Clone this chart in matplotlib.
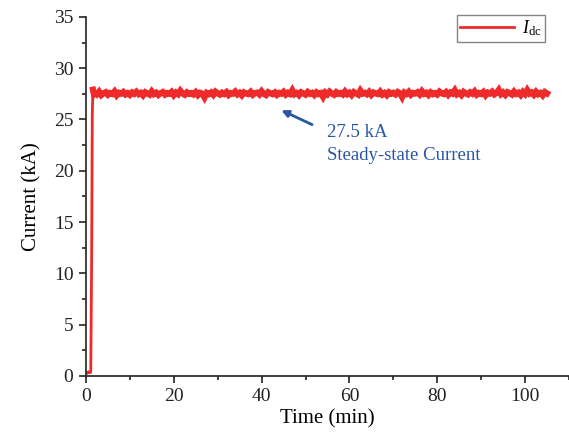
import numpy as np
import matplotlib.pyplot as plt
from matplotlib.ticker import MultipleLocator

plt.rcParams['font.family'] = ['Liberation Serif', 'DejaVu Serif']
plt.rcParams['mathtext.fontset'] = 'custom'
plt.rcParams['mathtext.it'] = 'Liberation Serif:italic'
plt.rcParams['mathtext.rm'] = 'Liberation Serif'

# start-up part (min, kA)
t_start = [0.0, 0.3, 0.6, 0.9, 1.1, 1.3, 1.45, 1.6, 1.8]
i_start = [0.35, 0.25, 0.4, 0.3, 0.35, 11.0, 25.5, 27.9, 27.5]

# steady part, one reading every 0.5 min from 2.0 to 105.0
t0, dt = 2.0, 0.5
i_steady = [
    27.62, 27.45, 27.71, 27.38, 27.55, 27.66, 27.41, 27.58, 27.49, 27.73,
    27.36, 27.60, 27.52, 27.68, 27.44, 27.57, 27.40, 27.63, 27.50, 27.70,
    27.47, 27.59, 27.35, 27.65, 27.53, 27.42, 27.74, 27.48, 27.61, 27.39,
    27.56, 27.67, 27.43, 27.58, 27.51, 27.69, 27.37, 27.62, 27.46, 27.80,
    27.54, 27.41, 27.64, 27.50, 27.57, 27.44, 27.66, 27.38, 27.60, 27.52,
    27.15, 27.59, 27.47, 27.63, 27.40, 27.71, 27.55, 27.43, 27.61, 27.49,
    27.67, 27.39, 27.58, 27.52, 27.72, 27.45, 27.60, 27.36, 27.64, 27.53,
    27.48, 27.69, 27.41, 27.57, 27.62, 27.44, 27.75, 27.50, 27.38, 27.66,
    27.55, 27.47, 27.63, 27.40, 27.59, 27.52, 27.70, 27.43, 27.61, 27.49,
    27.85, 27.46, 27.58, 27.37, 27.65, 27.54, 27.42, 27.68, 27.51, 27.60,
    27.39, 27.64, 27.48, 27.57, 27.20, 27.62, 27.45, 27.71, 27.53, 27.41,
    27.66, 27.50, 27.59, 27.44, 27.73, 27.47, 27.61, 27.38, 27.67, 27.55,
    27.42, 27.82, 27.52, 27.60, 27.46, 27.69, 27.40, 27.63, 27.54, 27.48,
    27.72, 27.43, 27.58, 27.37, 27.65, 27.51, 27.60, 27.45, 27.68, 27.56,
    27.18, 27.62, 27.49, 27.70, 27.41, 27.59, 27.53, 27.66, 27.44, 27.76,
    27.50, 27.61, 27.39, 27.64, 27.47, 27.57, 27.43, 27.71, 27.55, 27.48,
    27.67, 27.40, 27.63, 27.52, 27.84, 27.46, 27.60, 27.38, 27.69, 27.54,
    27.44, 27.65, 27.51, 27.74, 27.42, 27.58, 27.49, 27.68, 27.36, 27.62,
    27.53, 27.71, 27.45, 27.59, 27.88, 27.47, 27.64, 27.40, 27.66, 27.55,
    27.43, 27.72, 27.50, 27.61, 27.38, 27.69, 27.48, 27.86, 27.52, 27.63,
    27.41, 27.70, 27.46, 27.58, 27.35, 27.67, 27.54,
]

t_steady = t0 + dt * np.arange(len(i_steady))
red = '#ee2a2a'

fig = plt.figure(figsize=(5.69, 4.34), dpi=100)
ax = fig.add_axes([0.151, 0.134, 0.849, 0.827])

# thin line for the start-up ramp, thick noisy band for the steady state
ax.plot(t_start, i_start, color=red, lw=2)
ax.plot(np.concatenate([t_start[-2:], t_steady]),
        np.concatenate([i_start[-2:], i_steady]),
        color=red, lw=4.5, solid_joinstyle='miter',
        label=r'$I_{\mathrm{dc}}$')

ax.set_xlim(0, 110)
ax.set_ylim(0, 35)
ax.xaxis.set_major_locator(MultipleLocator(20))
ax.xaxis.set_minor_locator(MultipleLocator(10))
ax.yaxis.set_major_locator(MultipleLocator(5))
ax.yaxis.set_minor_locator(MultipleLocator(2.5))
ax.spines['top'].set_visible(False)
ax.spines['right'].set_visible(False)
for s in ['left', 'bottom']:
    ax.spines[s].set_linewidth(1.2)
    ax.spines[s].set_color('#222222')
ax.tick_params(which='major', direction='out', length=5, width=1.2,
               labelsize=14, colors='#222222', pad=4)
ax.tick_params(which='minor', direction='out', length=3, width=1.2,
               colors='#222222')
ax.set_xlabel('Time (min)', fontsize=15, labelpad=3)
ax.set_ylabel('Current (kA)', fontsize=15, labelpad=9)

ax.annotate('', xy=(44.5, 25.9), xytext=(51.5, 24.5),
            arrowprops=dict(arrowstyle='-|>', color='#2a56a8', lw=2,
                            mutation_scale=10, shrinkA=0, shrinkB=0))
ax.text(55, 23.7, '27.5 kA', color='#2a56a8', fontsize=13.5, va='center')
ax.text(55, 21.5, 'Steady-state Current', color='#2a56a8', fontsize=13.5,
        va='center')

leg = ax.legend(loc='upper right', bbox_to_anchor=(0.95, 1.005),
                fontsize=13, handlelength=3.0, fancybox=False,
                borderpad=0.2, handletextpad=0.4, borderaxespad=0)
leg.get_frame().set_edgecolor('#666666')
leg.get_frame().set_linewidth(1.0)
for ln in leg.get_lines():
    ln.set_linewidth(2)

fig.savefig('out.png', dpi=100)
